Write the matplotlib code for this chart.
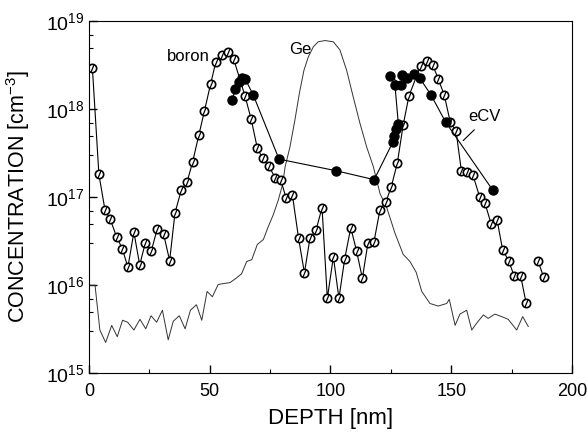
import matplotlib
matplotlib.use("Agg")
import matplotlib.pyplot as plt
from matplotlib.ticker import LogLocator, FixedLocator, NullFormatter

plt.rcParams['font.family'] = ['Liberation Sans', 'DejaVu Sans']
plt.rcParams['mathtext.fontset'] = 'custom'
plt.rcParams['mathtext.rm'] = 'Liberation Sans'
plt.rcParams['mathtext.it'] = 'Liberation Sans'

# boron profile (open circles)
boron_depth = [1.4, 4.1, 6.6, 8.8, 11.5, 13.8, 16.1, 18.6, 21.0, 23.3, 25.8, 28.3, 30.9, 33.4,
               35.6, 38.2, 40.6, 42.9, 45.5, 47.8, 50.4, 52.5, 55.1, 57.7, 59.9, 64.6, 67.1,
               69.7, 71.9, 74.5, 77.1, 79.4, 81.6, 84.2, 86.8, 89.2, 91.5, 94.0, 96.5, 98.7,
               101.2, 103.5, 105.9, 108.4, 110.8, 113.2, 115.5, 118.0, 120.5, 123.0, 125.2,
               127.7, 130.1, 132.5, 137.3, 139.8, 142.3, 144.6, 147.1, 149.6, 152.0, 154.2,
               156.6, 159.0, 161.8, 164.0, 166.5, 169.0, 171.3, 173.8, 176.1, 178.8, 181.0]
boron_conc = [2.95e18, 1.82e17, 7.2e16, 5.6e16, 3.5e16, 2.6e16, 1.6e16, 4.0e16, 1.7e16, 3.0e16,
              2.45e16, 4.4e16, 3.8e16, 1.9e16, 6.6e16, 1.2e17, 1.48e17, 2.5e17, 5.1e17, 9.5e17,
              1.95e18, 3.4e18, 4.1e18, 4.5e18, 3.7e18, 1.41e18, 7.8e17, 3.6e17, 2.75e17, 2.24e17,
              1.66e17, 1.58e17, 9.8e16, 1.07e17, 3.4e16, 1.38e16, 3.4e16, 4.2e16, 7.6e16, 7.1e15,
              2.1e16, 7.1e15, 2.0e16, 4.5e16, 2.45e16, 1.2e16, 3.0e16, 3.1e16, 7.2e16, 8.9e16,
              1.32e17, 2.45e17, 6.6e17, 1.41e18, 3.1e18, 3.5e18, 3.2e18, 2.2e18, 1.45e18, 7.1e17,
              5.6e17, 2.0e17, 1.95e17, 1.78e17, 1.0e17, 8.5e16, 5.0e16, 5.5e16, 2.5e16, 1.9e16,
              1.26e16, 1.26e16, 6.3e15]
tail_depth = [186.0, 188.3]
tail_conc = [1.86e16, 1.23e16]

# eCV profile (filled circles)
ecv_depth = [59.3, 60.5, 62.2, 63.2, 64.7, 68.0, 78.7, 102.1, 118.1, 125.8, 126.3, 127.1, 128.1,
             126.7, 124.6, 129.4, 129.7, 131.8, 134.7, 137.0, 141.6, 147.7, 167.2]
ecv_conc = [1.26e18, 1.68e18, 2.04e18, 2.24e18, 2.19e18, 1.45e18, 2.7e17, 2.0e17, 1.58e17,
            4.2e17, 5.0e17, 6.0e17, 6.8e17, 1.86e18, 2.4e18, 1.86e18, 2.45e18, 2.24e18,
            2.5e18, 2.24e18, 1.45e18, 7.1e17, 1.2e17]

# Ge profile (thin line)
ge_depth = [0.4, 2.5, 4.5, 6.9, 9.4, 11.7, 13.9, 16.0, 18.6, 21.1, 23.5, 25.7, 28.0, 30.4, 32.8,
            34.9, 37.4, 39.8, 42.0, 44.5, 46.7, 48.9, 51.1, 53.5, 56.3, 58.4, 60.9, 63.2, 65.3,
            67.4, 69.7, 72.2, 74.2, 76.3, 78.4, 80.2, 81.2, 83.2, 85.3, 87.1, 89.0, 90.8, 92.9,
            94.9, 97.7, 101.2, 103.9, 106.7, 109.4, 112.2, 115.0, 117.7, 120.5, 123.3, 126.7,
            130.1, 132.9, 135.5, 137.8, 141.2, 144.6, 148.1, 149.2, 151.6, 153.6, 156.4, 158.5,
            160.5, 163.3, 165.3, 168.1, 170.9, 173.6, 177.1, 179.6, 181.9]
ge_conc = [1.0e16, 1.0e16, 3.1e15, 2.24e15, 3.5e15, 2.6e15, 4.0e15, 3.8e15, 3.1e15, 4.1e15,
           3.2e15, 4.5e15, 3.8e15, 5.2e15, 2.4e15, 3.9e15, 4.5e15, 3.2e15, 5.2e15, 6.0e15,
           4.0e15, 8.5e15, 7.4e15, 1.02e16, 1.05e16, 1.07e16, 1.2e16, 1.35e16, 1.86e16, 1.95e16,
           2.9e16, 3.3e16, 4.6e16, 6.3e16, 9.3e16, 1.4e17, 2.2e17, 3.7e17, 7.6e17, 1.5e18,
           2.75e18, 3.9e18, 5.1e18, 5.8e18, 6.0e18, 5.8e18, 4.7e18, 2.75e18, 1.38e18, 6.9e17,
           3.7e17, 2.24e17, 1.1e17, 7.6e16, 3.9e16, 2.24e16, 1.86e16, 1.4e16, 8.5e15, 6.2e15,
           5.8e15, 6.2e15, 6.9e15, 3.5e15, 4.7e15, 5.2e15, 3.1e15, 3.7e15, 4.6e15, 4.2e15,
           4.7e15, 4.4e15, 4.1e15, 3.1e15, 4.4e15, 3.4e15]

x_ticks = [0, 50, 100, 150, 200]
y_ticks = [1e15, 1e16, 1e17, 1e18, 1e19]
y_ticklabels = ['$10^{15}$', '$10^{16}$', '$10^{17}$', '$10^{18}$', '$10^{19}$']

fig = plt.figure(figsize=(5.87, 4.32), dpi=100)
ax = fig.add_axes([0.1516, 0.1359, 0.8228, 0.8155])
ax.set_yscale('log')

ax.plot(ge_depth, ge_conc, color='#333333', lw=0.7)

slash = [(-0.25, -0.6), (0.25, 0.6)]
for xs, ys in [(boron_depth, boron_conc), (tail_depth, tail_conc)]:
    ax.plot(xs, ys, color='black', lw=0.8, marker='o', ms=6, mfc='white',
            mec='black', mew=1.2)
    ax.plot(xs, ys, ls='none', marker=slash, ms=5, mec='black', mew=0.9)

ax.plot(ecv_depth, ecv_conc, color='black', lw=0.8, marker='o', ms=6.5,
        mfc='black', mec='black')

ax.text(32.2, 4.0e18, 'boron', fontsize=12, va='center')
ax.text(82.9, 4.7e18, 'Ge', fontsize=12, va='center')
ax.text(157.1, 8.2e17, 'eCV', fontsize=12, va='center')
ax.plot([155, 159.5], [4.4e17, 5.8e17], color='black', lw=0.8)

ax.set_xlim(0, 200)
ax.set_ylim(1e15, 1e19)
ax.set_xticks(x_ticks)
ax.xaxis.set_minor_locator(FixedLocator([25, 75, 125, 175]))
ax.set_yticks(y_ticks)
ax.set_yticklabels(y_ticklabels)
ax.yaxis.set_minor_locator(LogLocator(base=10, subs=[3, 5, 7]))
ax.yaxis.set_minor_formatter(NullFormatter())
ax.tick_params(which='both', direction='in', top=False, right=False)
ax.tick_params(which='major', length=6, width=1)
ax.tick_params(which='minor', length=3, width=0.8)
ax.tick_params(axis='x', labelsize=13, pad=7)
ax.tick_params(axis='y', labelsize=14, pad=3)

ax.set_xlabel('DEPTH [nm]', fontsize=16, labelpad=6)
ax.set_ylabel('CONCENTRATION [cm$^{-3}$]', fontsize=15.5)
ax.yaxis.set_label_coords(-0.118, 0.5)

fig.savefig('out.png', dpi=100)
